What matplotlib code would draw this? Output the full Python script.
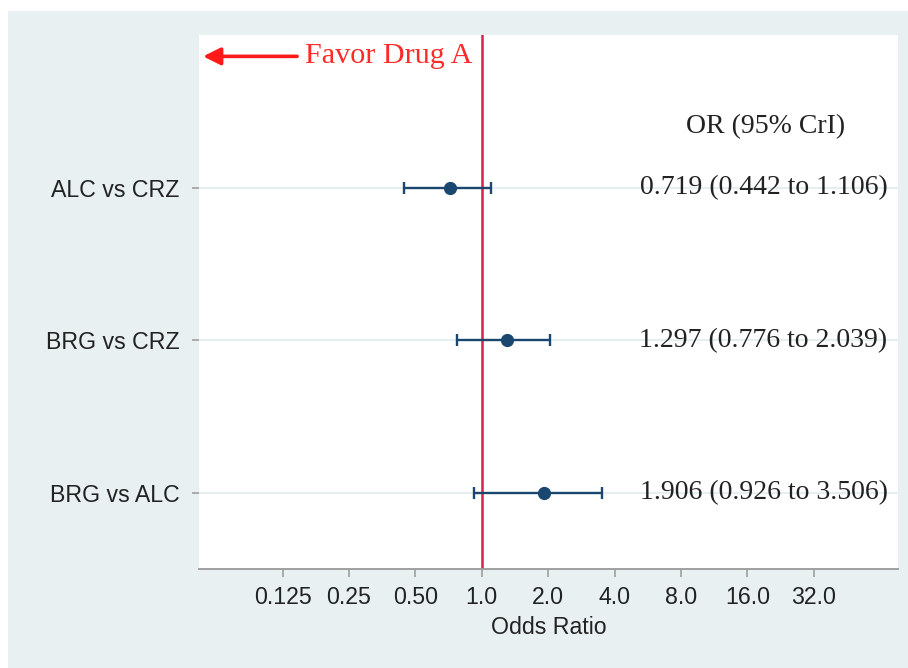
import numpy as np
import matplotlib.pyplot as plt
from matplotlib.patches import Rectangle
from matplotlib.ticker import FixedLocator, NullLocator

# comparisons, top to bottom
comparisons = ["ALC vs CRZ", "BRG vs CRZ", "BRG vs ALC"]
odds_ratio = [0.719, 1.297, 1.906]
cri_low = [0.442, 0.776, 0.926]
cri_high = [1.106, 2.039, 3.506]

tick_values = [0.125, 0.25, 0.5, 1.0, 2.0, 4.0, 8.0, 16.0, 32.0]
tick_labels = ["0.125", "0.25", "0.50", "1.0", "2.0", "4.0", "8.0", "16.0", "32.0"]

navy = "#1a476f"
bg = "#e8f0f2"
W, H = 908, 668
sans = "Liberation Sans"
serif = "Liberation Serif"

fig = plt.figure(figsize=(W / 100, H / 100), dpi=100)
fig.patch.set_facecolor("white")
# light graph-region panel behind the plot
panel = Rectangle((8 / W, 0), 1 - 8 / W, 1 - 11 / H,
                  transform=fig.transFigure, facecolor=bg,
                  edgecolor="none", zorder=-10)
fig.add_artist(panel)

ax = fig.add_axes([199 / W, (H - 569) / H, (898 - 199) / W, (569 - 35) / H])
ax.set_facecolor("white")

ypos = np.arange(len(comparisons), 0, -1)
or_arr = np.array(odds_ratio)
lo = or_arr - np.array(cri_low)
hi = np.array(cri_high) - or_arr

for y in ypos:
    ax.axhline(y, color="#e6eef0", lw=1.6, zorder=1)

ax.axvline(1.0, color="#d8204c", lw=1.8, zorder=2)

ax.errorbar(or_arr, ypos, xerr=[lo, hi], fmt="o", color=navy, ms=8.5,
            elinewidth=1.7, capsize=4.5, capthick=1.7, zorder=3)

ax.set_xscale("log", base=2)
ax.set_xlim(2 ** -4.26, 2 ** 6.27)
ax.set_ylim(0.5, 4.0)
ax.xaxis.set_major_locator(FixedLocator(tick_values))
ax.xaxis.set_minor_locator(NullLocator())
ax.set_xticklabels(tick_labels, fontsize=16.7, family=sans, color="#222222")
ax.set_yticks(ypos)
ax.set_yticklabels(comparisons, fontsize=16.7, family=sans, color="#222222")
ax.tick_params(axis="x", length=6, width=1.1, color="#999999", pad=6)
ax.tick_params(axis="y", length=5, width=1.1, color="#999999", pad=9)
ax.set_xlabel("Odds Ratio", fontsize=16.7, family=sans, color="#222222",
              labelpad=5)

for side in ["left", "top", "right"]:
    ax.spines[side].set_visible(False)
ax.spines["bottom"].set_color("#999999")
ax.spines["bottom"].set_linewidth(1.3)

# estimates with credible intervals on the right
ax.text(0.81, 3.4, "OR (95% CrI)", transform=ax.get_yaxis_transform(),
        ha="center", va="center", fontsize=20, family=serif, color="#222222")
for y, m, l, h in zip(ypos, odds_ratio, cri_low, cri_high):
    ax.text(0.985, y, f"{m:.3f} ({l:.3f} to {h:.3f})",
            transform=ax.get_yaxis_transform(), ha="right", va="center",
            fontsize=20, family=serif, color="#222222")

# direction annotation
ax.annotate("", xy=(2 ** -4.24, 3.86), xytext=(2 ** -2.74, 3.86),
            arrowprops=dict(arrowstyle="-|>", color="#ff1a1a", lw=2.6,
                            mutation_scale=26))
ax.text(2 ** -2.66, 3.86, "Favor Drug A", ha="left", va="center",
        fontsize=21.7, family=serif, color="#ff2a2a")

fig.savefig("out.png", dpi=100)
